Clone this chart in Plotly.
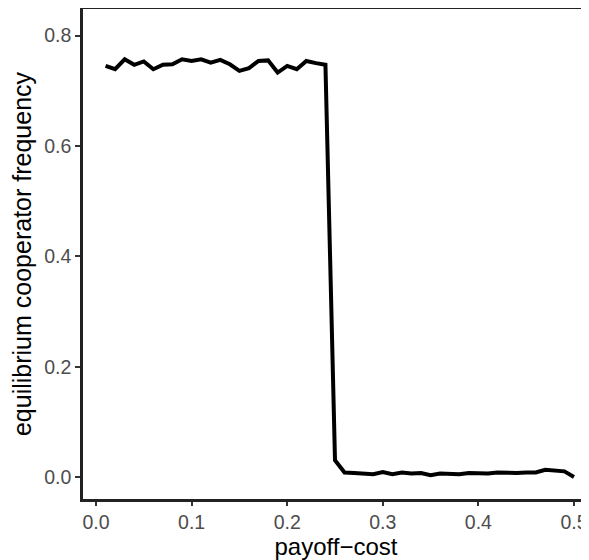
import plotly.graph_objects as go

x_vals = [round(0.01 * i, 2) for i in range(1, 51)]
y_vals = [0.745, 0.739, 0.757, 0.747, 0.753, 0.739, 0.747, 0.748, 0.757, 0.754,
          0.757, 0.751, 0.756, 0.748, 0.736, 0.741, 0.754, 0.755, 0.733, 0.745,
          0.739, 0.754, 0.750, 0.747, 0.031, 0.009, 0.008, 0.007, 0.006, 0.010,
          0.006, 0.009, 0.007, 0.008, 0.004, 0.007, 0.007, 0.006, 0.008, 0.008,
          0.007, 0.009, 0.008, 0.008, 0.009, 0.009, 0.014, 0.012, 0.011, 0.001]
x_ticks = [0.0, 0.1, 0.2, 0.3, 0.4, 0.5]
y_ticks = [0.0, 0.2, 0.4, 0.6, 0.8]

fig = go.Figure()
fig.add_trace(go.Scatter(x=x_vals, y=y_vals, mode="lines",
                         line=dict(color="black", width=4),
                         hoverinfo="skip"))

font_family = "Liberation Sans, Arial, Helvetica, sans-serif"
fig.update_layout(
    width=581, height=552,
    margin=dict(l=75, r=0, t=1, b=61, autoexpand=False),
    paper_bgcolor="white", plot_bgcolor="white",
    showlegend=False,
    font=dict(family=font_family),
    xaxis=dict(
        range=[-0.0136, 0.5157],
        tickvals=x_ticks, ticktext=[f"{v:.1f}" for v in x_ticks],
        showgrid=False, zeroline=False,
        showline=True, linecolor="#222222", linewidth=2.5, mirror=True,
        ticks="outside", ticklen=4, tickwidth=2, tickcolor="#333333",
        tickfont=dict(size=19.5, color="#4D4D4D"),
        title=dict(text="payoff\u2212cost", font=dict(size=24, color="black"), standoff=5),
        automargin=False,
    ),
    yaxis=dict(
        range=[-0.039, 0.848],
        tickvals=y_ticks, ticktext=[f"{v:.1f}" for v in y_ticks],
        showgrid=False, zeroline=False,
        showline=True, linecolor="#222222", linewidth=2.5,
        ticks="outside", ticklen=5, tickwidth=2, tickcolor="#333333",
        tickfont=dict(size=19.5, color="#4D4D4D"),
        title=dict(text="equilibrium cooperator frequency", font=dict(size=25, color="black"), standoff=8),
        automargin=False,
    ),
)

fig.write_html("out.html")
